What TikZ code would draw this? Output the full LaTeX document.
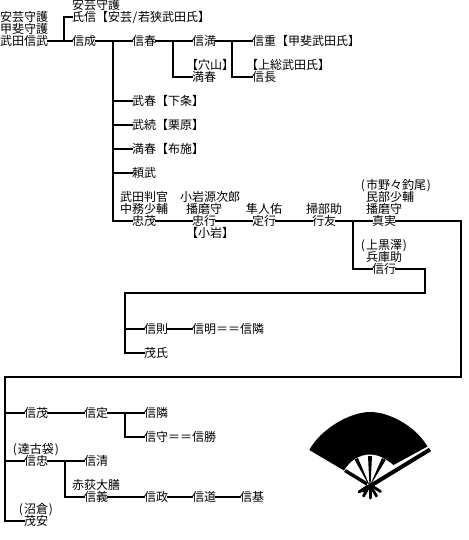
\documentclass[tikz,border=0pt]{standalone}
\usepackage{fontspec}
\setmainfont{Noto Sans CJK JP}
\newcommand{\lpar}{\makebox[6pt][c]{(}}
\newcommand{\rpar}{\makebox[6pt][c]{)}}
\newcommand{\hslash}{\makebox[6pt][c]{/}}
\tikzset{
  lbl/.style={anchor=west,inner sep=0pt,outer sep=0pt,font=\fontsize{12}{12}\selectfont,text height=10.56pt,text depth=1.44pt},
  link/.style={line width=2pt,line cap=butt,line join=miter,black,shorten <=-1pt,shorten >=-1pt},
  fanpart/.style={fill=black,draw=none},
  rib/.style={black,line cap=butt}
}
\begin{document}
\begin{tikzpicture}[x=1pt,y=-1pt]
\useasboundingbox (0,0) rectangle (468,540);
% --- names
\node[lbl] (a1) at (0,17) {安芸守護};
\node[lbl] (a2) at (0,29) {甲斐守護};
\node[lbl] (takeda) at (0,41) {武田信武};
\node[lbl] (b1) at (72,5) {安芸守護};
\node[lbl] (ujinobu) at (72,17) {氏信【安芸\hslash 若狭武田氏】};
\node[lbl] (nobunari) at (72,41) {信成};
\node[lbl] (nobuharu) at (132,41) {信春};
\node[lbl] (nobumitsu) at (192,41) {信満};
\node[lbl] (c1) at (186,65) {【穴山】};
\node[lbl] (mitsuharu) at (192,77) {満春};
\node[lbl] (nobushige) at (252,41) {信重【甲斐武田氏】};
\node[lbl] (d1) at (246,65) {【上総武田氏】};
\node[lbl] (nobunaga) at (252,77) {信長};
\node[lbl] (takeharu) at (132,101) {武春【下条】};
\node[lbl] (taketsugu) at (132,125) {武続【栗原】};
\node[lbl] (mitsuharub) at (132,149) {満春【布施】};
\node[lbl] (yoritake) at (132,173) {頼武};
\node[lbl] (e1) at (120,197) {武田判官};
\node[lbl] (e2) at (120,209) {中務少輔};
\node[lbl] (tadashige) at (132,221) {忠茂};
\node[lbl] (f1) at (180,197) {小岩源次郎};
\node[lbl] (f2) at (186,209) {播磨守};
\node[lbl] (tadayuki) at (192,221) {忠行};
\node[lbl] (f3) at (186,233) {【小岩】};
\node[lbl] (g1) at (246,209) {隼人佑};
\node[lbl] (sadayuki) at (252,221) {定行};
\node[lbl] (h1) at (306,209) {掃部助};
\node[lbl] (yukitomo) at (312,221) {行友};
\node[lbl] (i1) at (360,185) {\lpar 市野々釣尾\rpar};
\node[lbl] (i2) at (366,197) {民部少輔};
\node[lbl] (i3) at (366,209) {播磨守};
\node[lbl] (sanemi) at (372,221) {真実};
\node[lbl] (j1) at (360,245) {\lpar 上黒澤\rpar};
\node[lbl] (j2) at (366,257) {兵庫助};
\node[lbl] (nobuyuki) at (372,269) {信行};
\node[lbl] (nobunori) at (144,329) {信則};
\node[lbl] (nobuaki) at (192,329) {信明＝＝信隣};
\node[lbl] (shigeuji) at (144,353) {茂氏};
\node[lbl] (nobushigeb) at (24,413) {信茂};
\node[lbl] (nobusada) at (84,413) {信定};
\node[lbl] (nobuchika) at (144,413) {信隣};
\node[lbl] (nobumori) at (144,437) {信守＝＝信勝};
\node[lbl] (k1) at (12,449) {\lpar 達古袋\rpar};
\node[lbl] (nobutada) at (24,461) {信忠};
\node[lbl] (nobukiyo) at (84,461) {信清};
\node[lbl] (l1) at (72,485) {赤荻大膳};
\node[lbl] (nobuyoshi) at (84,497) {信義};
\node[lbl] (nobumasa) at (144,497) {信政};
\node[lbl] (nobumichi) at (192,497) {信道};
\node[lbl] (nobumoto) at (240,497) {信基};
\node[lbl] (m1) at (18,509) {\lpar 沼倉\rpar};
\node[lbl] (shigeyasu) at (24,521) {茂安};
% --- junctions
\coordinate (u) at (64,41);
\coordinate (v) at (113,41);
\coordinate (w) at (173,41);
\coordinate (x1) at (232,41);
\coordinate (y1) at (353,221);
\coordinate (z1) at (461,221);
\coordinate (z2) at (461,377);
\coordinate (z3) at (5,377);
\coordinate (y2) at (425,269);
\coordinate (y3) at (425,293);
\coordinate (y4) at (125,293);
\coordinate (p1) at (125,329);
\coordinate (q1) at (5,413);
\coordinate (q2) at (5,461);
\coordinate (r1) at (125,413);
\coordinate (s1) at (65,461);
% --- connectors
\draw[link] (takeda.east) -- (nobunari.west);
\draw[link] (u) |- (ujinobu.west);
\draw[link] (nobunari.east) -- (nobuharu.west);
\draw[link] (nobuharu.east) -- (nobumitsu.west);
\draw[link] (w) |- (mitsuharu.west);
\draw[link] (nobumitsu.east) -- (nobushige.west);
\draw[link] (x1) |- (nobunaga.west);
\draw[link] (v) |- (tadashige.west);
\draw[link] (v |- takeharu.west) -- (takeharu.west);
\draw[link] (v |- taketsugu.west) -- (taketsugu.west);
\draw[link] (v |- mitsuharub.west) -- (mitsuharub.west);
\draw[link] (v |- yoritake.west) -- (yoritake.west);
\draw[link] (tadashige.east) -- (tadayuki.west);
\draw[link] (tadayuki.east) -- (sadayuki.west);
\draw[link] (sadayuki.east) -- (yukitomo.west);
\draw[link] (yukitomo.east) -- (sanemi.west);
\draw[link] (y1) |- (nobuyuki.west);
\draw[link] (nobuyuki.east) -- (y2) -- (y3) -- (y4) |- (shigeuji.west);
\draw[link] (p1) -- (nobunori.west);
\draw[link] (nobunori.east) -- (nobuaki.west);
\draw[link] (sanemi.east) -- (z1) -- (z2) -- (z3) |- (shigeyasu.west);
\draw[link] (q1) -- (nobushigeb.west);
\draw[link] (q2) -- (nobutada.west);
\draw[link] (nobushigeb.east) -- (nobusada.west);
\draw[link] (nobusada.east) -- (nobuchika.west);
\draw[link] (r1) |- (nobumori.west);
\draw[link] (nobutada.east) -- (nobukiyo.west);
\draw[link] (s1) |- (nobuyoshi.west);
\draw[link] (nobuyoshi.east) -- (nobumasa.west);
\draw[link] (nobumasa.east) -- (nobumichi.west);
\draw[link] (nobumichi.east) -- (nobumoto.west);
% --- fan crest
\fill[fanpart] (309.3,450) .. controls (320.6,429) and (350,412) .. (370,412)
  .. controls (390,412) and (415.8,426.6) .. (427.5,446.5)
  -- (393.5,465) .. controls (385,458) and (378,454.5) .. (370,454.5)
  .. controls (360,454.5) and (350,460) .. (344,470.5) -- cycle;
% guards
\draw[rib,line width=4pt] (430,449.5) -- (362,491);
\draw[rib,line width=3.4pt] (345,470.5) -- (367,484);
% inner ribs
\fill[fanpart] (368,456) -- (372,456) -- (370.6,484) -- (369.4,484) -- cycle;
\fill[fanpart] (354.5,459.5) -- (358,458) -- (369,484) -- (368.4,484.4) -- cycle;
\fill[fanpart] (382,458) -- (385.7,460) -- (371,484.2) -- (370.6,484) -- cycle;
% butt ribs
\draw[rib,line width=3pt,line cap=round] (370,487) -- (370,498);
\draw[rib,line width=2.8pt,line cap=round] (368.8,487) -- (363.5,496);
\draw[rib,line width=2.8pt,line cap=round] (371.2,487) -- (376.5,496);
\draw[rib,line width=2.8pt,line cap=round] (368,486) -- (359,492);
\draw[rib,line width=2.8pt,line cap=round] (372,486) -- (380.5,491.5);
\end{tikzpicture}
\end{document}
